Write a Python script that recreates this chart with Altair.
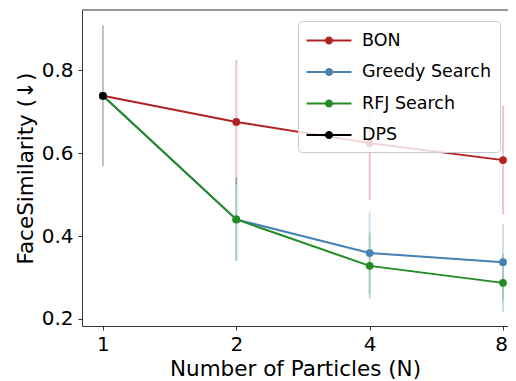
import altair as alt
import pandas as pd

# ---- data ----
N = [1, 2, 4, 8]
series_names = ["BON", "Greedy Search", "RFJ Search", "DPS"]
colors = ["#b22222", "#4682b4", "#228b22", "#000000"]

bon = [0.738, 0.675, 0.624, 0.583]
bon_err = [None, 0.15, 0.137, 0.131]
greedy = [0.738, 0.44, 0.359, 0.337]
greedy_err = [None, 0.1, 0.1, 0.093]
rfj = [0.738, 0.44, 0.328, 0.287]
rfj_err = [None, 0.1, 0.08, 0.07]
dps_N = [1]
dps = [0.738]
dps_err = [0.17]

x_ticks = [1, 2, 4, 8]
y_ticks = [0.2, 0.4, 0.6, 0.8]

rows = []
for name, xs, ys, es in [
    ("BON", N, bon, bon_err),
    ("Greedy Search", N, greedy, greedy_err),
    ("RFJ Search", N, rfj, rfj_err),
    ("DPS", dps_N, dps, dps_err),
]:
    for x, y, e in zip(xs, ys, es):
        rows.append({
            "series": name, "N": x, "y": y,
            "lo": None if e is None else y - e,
            "hi": None if e is None else y + e,
        })
df = pd.DataFrame(rows)
df_err = df.dropna(subset=["lo"])

W, H = 426, 316

xenc = alt.X("N:Q",
             scale=alt.Scale(type="log", base=2, domain=[0.897, 8.21], nice=False),
             axis=alt.Axis(values=x_ticks, format="d", grid=False, labelPadding=4,
                           labelFlush=10, labelFlushOffset=4.5,
                           title="Number of Particles (N)", titlePadding=4))
yscale = alt.Scale(domain=[0.183, 0.945], nice=False, zero=False)
yaxis = alt.Axis(values=y_ticks, format=".1f", grid=False, labelPadding=5,
                 title="FaceSimilarity (\u2193)", titlePadding=4)

# fill scale (legend) and stroke scale (lines, error bars) map the same colours
fill_scale = alt.Scale(domain=series_names, range=colors)
stroke_domain = sorted(series_names)
stroke_scale = alt.Scale(domain=stroke_domain,
                         range=[colors[series_names.index(s)] for s in stroke_domain])

legend_path = ("M-2,-0.089H2V0.089H-2Z "
               "M0.36,0A0.36,0.36 0 1,1 -0.36,0A0.36,0.36 0 1,1 0.36,0Z")

bars = alt.Chart(df_err).mark_rule(strokeWidth=2, opacity=0.25).encode(
    x=xenc,
    y=alt.Y("lo:Q", scale=yscale, axis=yaxis),
    y2="hi:Q",
    stroke=alt.Stroke("series:N", scale=stroke_scale, legend=None),
)

lines = alt.Chart(df).mark_line(strokeWidth=2).encode(
    x=xenc,
    y=alt.Y("y:Q", scale=yscale, axis=yaxis),
    stroke=alt.Stroke("series:N", scale=stroke_scale, legend=None),
    detail="series:N",
)

points = alt.Chart(df).mark_point(filled=True, size=60, opacity=1, strokeWidth=0).encode(
    x=xenc,
    y=alt.Y("y:Q", scale=yscale, axis=yaxis),
    fill=alt.Fill("series:N", scale=fill_scale, sort=series_names,
                  legend=alt.Legend(
                      title=None, orient="none", legendX=216, legendY=11,
                      symbolType=legend_path, symbolSize=506,
                      symbolStrokeWidth=0, symbolOpacity=1,
                      symbolOffset=11.5, labelOffset=21.5,
                      labelFontSize=17.5, labelColor="black",
                      fillColor="rgba(255,255,255,0.8)", strokeColor="#cccccc",
                      cornerRadius=4, padding=8, rowPadding=11.5,
                  )),
)

top_spine = alt.Chart(pd.DataFrame({"a": [0]})).mark_rule(
    color="#333333", strokeWidth=1
).encode(x=alt.value(0), x2=alt.value(W), y=alt.value(0))

chart = alt.layer(bars, lines, points, top_spine).properties(
    width=W, height=H,
    padding={"left": 74, "top": 2, "right": 0, "bottom": 55},
    autosize=alt.AutoSizeParams(type="none"),
).configure(
    font="DejaVu Sans",
).configure_view(
    stroke=None,
).configure_axis(
    domainColor="#333333", tickColor="#333333", tickSize=4, domainWidth=1,
    labelFontSize=20, titleFontSize=21.5, labelColor="black", titleColor="black",
    titleFontWeight="normal",
)

chart.save("out.html", embed_options={"renderer": "svg", "actions": False})
